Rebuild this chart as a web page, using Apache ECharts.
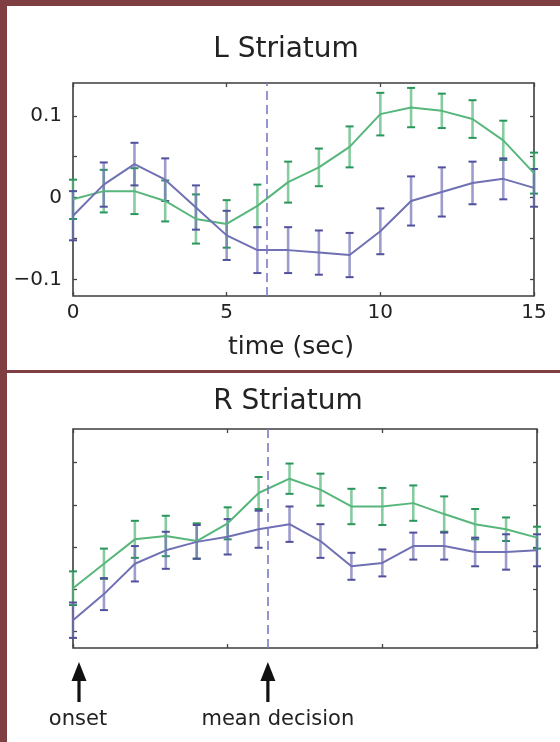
<!DOCTYPE html>
<html>
<head>
<meta charset="utf-8">
<script src="https://cdn.jsdelivr.net/npm/echarts@6/dist/echarts.min.js"></script>
<style>
  html, body { margin: 0; padding: 0; background: #7e3e42; }
  #chart { width: 560px; height: 742px; }
</style>
</head>
<body>
<div id="chart"></div>
<script>
// time after stimulus onset (sec)
const times = [0, 1, 2, 3, 4, 5, 6, 7, 8, 9, 10, 11, 12, 13, 14, 15];

// L striatum: mean response and standard error per condition
const lGreen    = [-0.002, 0.008, 0.008, -0.004, -0.026, -0.032, -0.010, 0.019, 0.037, 0.062, 0.102, 0.110, 0.106, 0.096, 0.070, 0.030];
const lGreenErr = [0.024, 0.026, 0.028, 0.025, 0.030, 0.029, 0.026, 0.025, 0.023, 0.025, 0.026, 0.024, 0.021, 0.023, 0.024, 0.025];
const lBlue     = [-0.022, 0.016, 0.041, 0.022, -0.012, -0.046, -0.064, -0.064, -0.067, -0.070, -0.041, -0.004, 0.007, 0.018, 0.023, 0.012];
const lBlueErr  = [0.030, 0.027, 0.026, 0.026, 0.027, 0.030, 0.028, 0.028, 0.027, 0.027, 0.028, 0.030, 0.030, 0.026, 0.025, 0.023];

// R striatum
const rGreen    = [-0.049, -0.020, 0.009, 0.013, 0.007, 0.028, 0.064, 0.081, 0.068, 0.048, 0.048, 0.052, 0.039, 0.027, 0.021, 0.011];
const rGreenErr = [0.020, 0.018, 0.022, 0.024, 0.021, 0.019, 0.019, 0.018, 0.019, 0.021, 0.022, 0.021, 0.021, 0.018, 0.014, 0.013];
const rBlue     = [-0.087, -0.056, -0.020, -0.004, 0.006, 0.012, 0.021, 0.027, 0.007, -0.023, -0.019, 0.001, 0.001, -0.006, -0.006, -0.004];
const rBlueErr  = [0.021, 0.019, 0.021, 0.022, 0.020, 0.021, 0.022, 0.021, 0.020, 0.016, 0.016, 0.016, 0.016, 0.017, 0.021, 0.019];

// axis ticks and labels
const xTicks = [0, 5, 10, 15];
const yTicks = [-0.1, -0.05, 0, 0.05, 0.1];
const yLabels = [-0.1, 0, 0.1];
const meanDecision = 6.3;
const onsetTime = 0;

const FONT = 'DejaVu Sans';
const GREEN = '#57b77b', GREEN_BAR = 'rgba(88,184,124,0.72)', GREEN_CAP = '#2a955a';
const BLUE = '#7070b4', BLUE_BAR = 'rgba(110,110,180,0.68)', BLUE_CAP = '#50509c';

const chart = echarts.init(document.getElementById('chart'));

function errRender(barColor, capColor) {
  return function (params, api) {
    const t = api.value(0), m = api.value(1), e = api.value(2);
    const hi = api.coord([t, m + e]);
    const lo = api.coord([t, m - e]);
    const w = 4;
    return {
      type: 'group',
      children: [
        { type: 'line', shape: { x1: hi[0], y1: hi[1], x2: lo[0], y2: lo[1] }, style: { stroke: barColor, lineWidth: 2.6 } },
        { type: 'line', shape: { x1: hi[0] - w, y1: hi[1], x2: hi[0] + w, y2: hi[1] }, style: { stroke: capColor, lineWidth: 2 } },
        { type: 'line', shape: { x1: lo[0] - w, y1: lo[1], x2: lo[0] + w, y2: lo[1] }, style: { stroke: capColor, lineWidth: 2 } }
      ]
    };
  };
}

function pairs(m, e) { return times.map((t, i) => [t, m[i], e[i]]); }
function line(m) { return times.map((t, i) => [t, m[i]]); }

const fmt = v => String(v).replace('-', '\u2212');
const tickStyle = { color: '#444', width: 1.3 };

function xAxes(grid, labels) {
  return ['bottom', 'top'].map(pos => ({
    type: 'value', gridIndex: grid, min: 0, max: 15, interval: 5, position: pos,
    axisLine: { show: false, onZero: false }, splitLine: { show: false },
    axisTick: { show: true, inside: true, length: 4, customValues: xTicks, lineStyle: tickStyle },
    axisLabel: {
      show: labels && pos === 'bottom', customValues: xTicks, margin: 7,
      fontFamily: FONT, fontSize: 20, color: '#222'
    }
  }));
}

function yAxes(grid, labels) {
  return ['left', 'right'].map(pos => ({
    type: 'value', gridIndex: grid, min: -0.12, max: 0.14, position: pos,
    axisLine: { show: false, onZero: false }, splitLine: { show: false },
    axisTick: { show: true, inside: true, length: 4, customValues: yTicks, lineStyle: tickStyle },
    axisLabel: {
      show: labels && pos === 'left', customValues: yLabels, margin: 11,
      fontFamily: FONT, fontSize: 20, color: '#222', formatter: fmt
    }
  }));
}

function panelSeries(grid, g, gErr, b, bErr) {
  const xi = grid * 2, yi = grid * 2;
  return [
    {
      type: 'custom', xAxisIndex: xi, yAxisIndex: yi, data: pairs(g, gErr),
      renderItem: errRender(GREEN_BAR, GREEN_CAP), z: 3, clip: false
    },
    {
      type: 'custom', xAxisIndex: xi, yAxisIndex: yi, data: pairs(b, bErr),
      renderItem: errRender(BLUE_BAR, BLUE_CAP), z: 3, clip: false
    },
    {
      type: 'line', xAxisIndex: xi, yAxisIndex: yi, data: line(g), showSymbol: false, z: 4,
      lineStyle: { color: GREEN, width: 2 }, itemStyle: { color: GREEN }
    },
    {
      type: 'line', xAxisIndex: xi, yAxisIndex: yi, data: line(b), showSymbol: false, z: 4,
      lineStyle: { color: BLUE, width: 2 }, itemStyle: { color: BLUE },
      markLine: {
        silent: true, symbol: 'none', label: { show: false },
        lineStyle: { color: '#7b7bc6', width: 1.6, type: [9, 5] },
        data: [{ xAxis: meanDecision }]
      }
    }
  ];
}

const gridFrame = { show: true, borderColor: '#3c3c3c', borderWidth: 1.6, backgroundColor: 'transparent' };

chart.setOption({
  backgroundColor: '#7e3e42',
  animation: false,
  grid: [
    Object.assign({ left: 73, top: 83, width: 461, height: 213 }, gridFrame),
    Object.assign({ left: 73, top: 429, width: 464, height: 219 }, gridFrame)
  ],
  xAxis: [...xAxes(0, true), ...xAxes(1, false)],
  yAxis: [...yAxes(0, true), ...yAxes(1, false)],
  series: [
    ...panelSeries(0, lGreen, lGreenErr, lBlue, lBlueErr),
    ...panelSeries(1, rGreen, rGreenErr, rBlue, rBlueErr)
  ]
});

// event arrows under the lower panel, placed on the time axis
const decX = chart.convertToPixel({ xAxisIndex: 2 }, meanDecision);
const onX = chart.convertToPixel({ xAxisIndex: 2 }, onsetTime) + 6;

function arrow(x, id) {
  return {
    type: 'group', id: id, children: [
      { type: 'polygon', shape: { points: [[x, 662], [x - 7.5, 681], [x + 7.5, 681]] }, style: { fill: '#111' } },
      { type: 'rect', shape: { x: x - 1.6, y: 678, width: 3.2, height: 24 }, style: { fill: '#111' } }
    ]
  };
}

function text(id, str, x, y, size) {
  return {
    type: 'text', id: id, x: x, y: y, z: 10,
    style: { text: str, fontFamily: FONT, fontSize: size, fill: '#222', align: 'center', verticalAlign: 'middle' }
  };
}

chart.setOption({
  graphic: [
    { type: 'rect', id: 'panelTop', z: -100, shape: { x: 7, y: 6, width: 553, height: 364 }, style: { fill: '#fff' } },
    { type: 'rect', id: 'panelBottom', z: -100, shape: { x: 7, y: 373, width: 553, height: 369 }, style: { fill: '#fff' } },
    text('titleL', 'L Striatum', 286, 50, 28),
    text('titleR', 'R Striatum', 288, 402, 28),
    text('xname', 'time (sec)', 291, 347, 25),
    arrow(onX, 'arrOnset'),
    arrow(decX, 'arrDecision'),
    text('lblOnset', 'onset', onX - 1, 720, 21),
    text('lblDecision', 'mean decision', decX + 10, 720, 21)
  ]
});
</script>
</body>
</html>
